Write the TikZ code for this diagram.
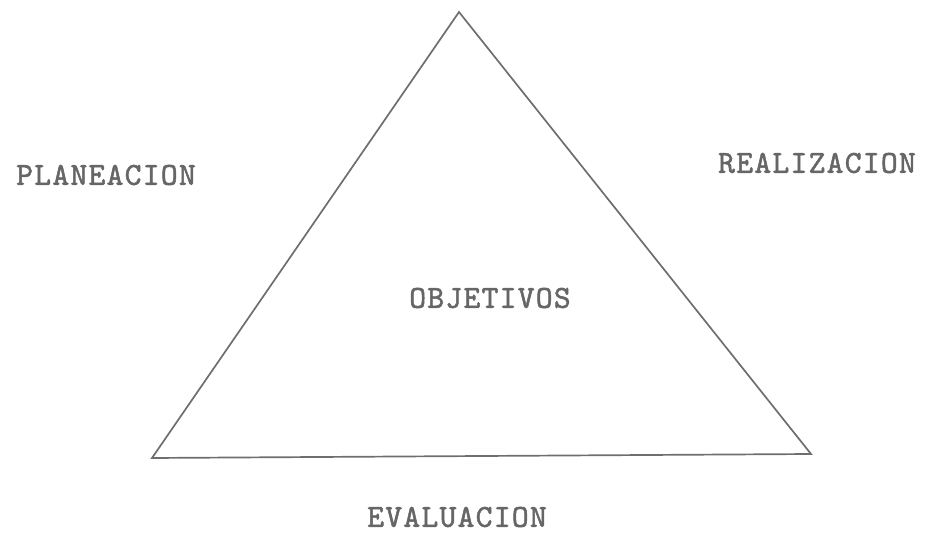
\documentclass[tikz,border=0pt]{standalone}
\usepackage{fontspec}
\definecolor{ink}{HTML}{666666}
\newfontfamily\typew{lmmono10-regular.otf}[LetterSpace=4,FakeBold=1.6]
\begin{document}
\begin{tikzpicture}[x=1pt,y=-1pt,
  lbl/.style={text=ink,font=\typew\fontsize{32}{32}\selectfont,inner sep=0pt,anchor=center},
  side/.style={draw=ink!95,line width=1.7pt,line join=miter}]
\useasboundingbox (0,0) rectangle (934,534);
\coordinate (top) at (459,12);
\coordinate (bl) at (152,458);
\coordinate (br) at (811,454);
\draw[side] (top) -- (bl) -- (br) -- cycle;
\node[lbl] (plan) at (106,175) {PLANEACION};
\node[lbl] (real) at (817,163) {REALIZACION};
\node[lbl] (obj) at (490,298) {OBJETIVOS};
\node[lbl] (eval) at (457,517) {EVALUACION};
\end{tikzpicture}
\end{document}
